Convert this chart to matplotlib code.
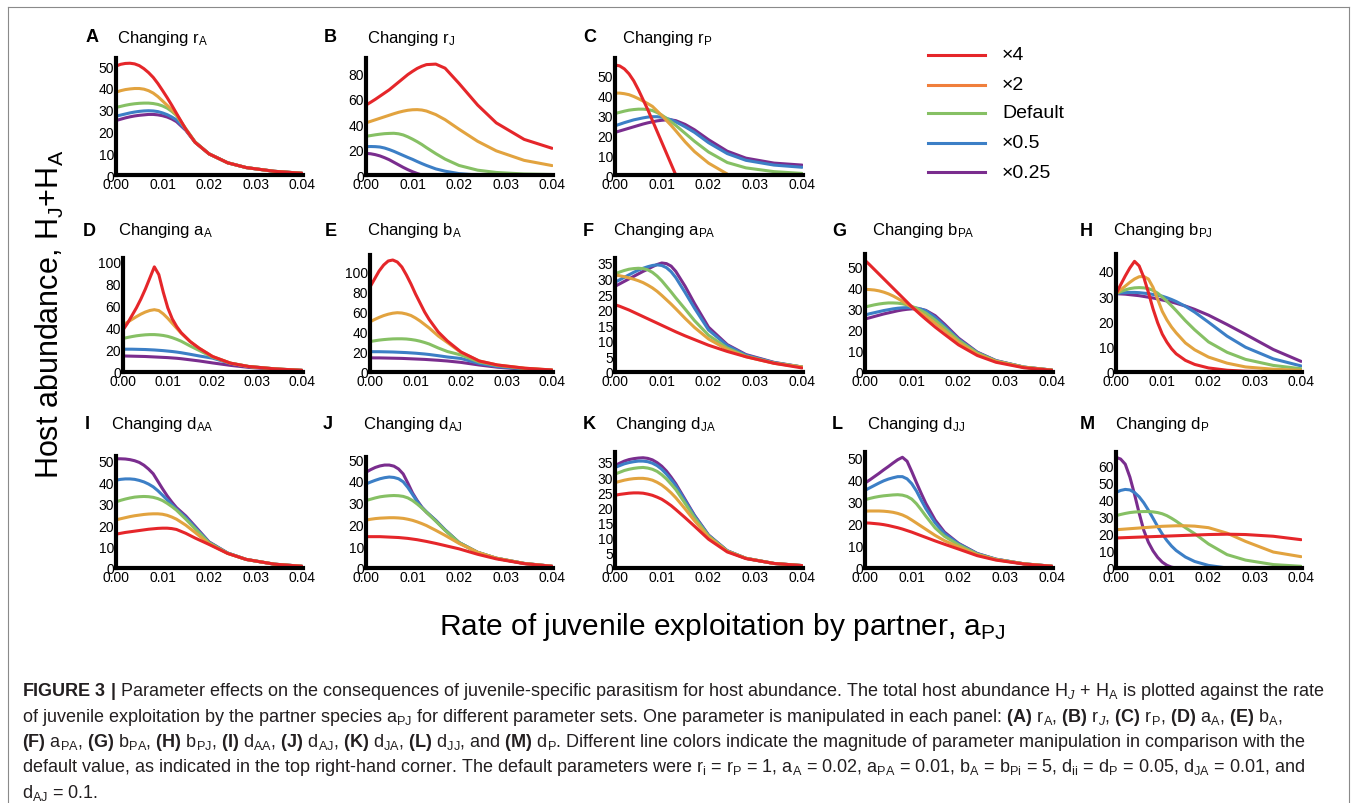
import matplotlib.pyplot as plt
import numpy as np
from matplotlib.lines import Line2D

plt.rcParams['font.family'] = 'Liberation Sans'
plt.rcParams['mathtext.fontset'] = 'custom'
plt.rcParams['mathtext.rm'] = 'Liberation Sans'
plt.rcParams['mathtext.it'] = 'Liberation Sans:italic'
plt.rcParams['mathtext.bf'] = 'Liberation Sans:bold'

W, H = 1357, 804
nan = np.nan

# rate of juvenile exploitation by partner, a_PJ (same samples for every curve)
a_pj = [0.000, 0.001, 0.002, 0.003, 0.004, 0.005, 0.006, 0.007, 0.008, 0.009,
        0.010, 0.011, 0.012, 0.013, 0.015, 0.017, 0.020, 0.024, 0.028, 0.034, 0.040]

levels = ['\u00d74', '\u00d72', 'Default', '\u00d70.5', '\u00d70.25']
line_colors = ['#e5262a', '#e2a33f', '#86c064', '#3c7fc6', '#7a2d8e']
legend_colors = ['#e5262a', '#f07f3c', '#86c064', '#3c7fc6', '#7a2d8e']

# host abundance H_J+H_A, series in the order of `levels`
host_A = [
    [50, 50.8, 51.2, 51.3, 51, 50.2, 48.8, 47, 44.8, 42, 38.8, 35.5, 32, 28.3, 21, 15, 9.7, 5.6, 3.4, 1.7, 0.8],
    [38, 38.7, 39.2, 39.5, 39.7, 39.7, 39.4, 38.7, 37.6, 36, 34, 32, 30, 27.8, 21, 15, 9.7, 5.6, 3.4, 1.7, 0.8],
    [31, 31.5, 32, 32.4, 32.7, 32.9, 33, 33, 32.8, 32.4, 31.7, 30.7, 29.2, 27.3, 21.3, 15.2, 9.7, 5.6, 3.4, 1.7, 0.8],
    [27, 27.5, 28, 28.5, 28.9, 29.2, 29.4, 29.5, 29.4, 29.1, 28.5, 27.7, 26.6, 25.3, 20.8, 15.1, 9.7, 5.6, 3.4, 1.7, 0.8],
    [25, 25.6, 26.2, 26.7, 27.1, 27.4, 27.6, 27.8, 27.8, 27.6, 27.2, 26.6, 25.7, 24.5, 20.5, 15, 9.7, 5.6, 3.4, 1.7, 0.8],
]
host_B = [
    [55, 57.2, 59.5, 62, 64.5, 67, 70, 73, 76, 79, 81.5, 83.8, 85.5, 86.8, 87.2, 84, 72, 55, 41, 28, 21],
    [41, 42.2, 43.4, 44.6, 45.8, 47, 48.2, 49.3, 50.2, 50.9, 51.3, 51.4, 51.1, 50.3, 47.5, 43.5, 36, 26.5, 19, 11.5, 7.4],
    [30.4, 31, 31.6, 32.1, 32.5, 32.7, 32.8, 32.4, 31.5, 30, 28.2, 26.2, 24, 21.5, 16.8, 12.5, 7.5, 3.8, 2, 0.8, 0.4],
    [22.3, 22.4, 22.3, 22, 21.2, 20, 18.6, 17, 15.4, 13.8, 12.3, 10.6, 9, 7.5, 4.8, 3, 1.1, 0, nan, nan, nan],
    [17, 16.7, 16, 15, 13.6, 12, 10, 8, 6, 4.2, 2.6, 1.2, 0, nan, nan, nan, nan, nan, nan, nan, nan],
]
host_C = [
    [55.5, 55, 53.5, 51, 47.5, 43, 38, 33, 27.5, 22, 16.5, 11, 5.5, 0, nan, nan, nan, nan, nan, nan, nan],
    [41.3, 41.3, 41, 40.5, 39.6, 38.5, 37.3, 36, 34.6, 32.3, 30, 27.5, 25, 22.3, 16.7, 11.8, 6, 0.5, nan, nan, nan],
    [31, 31.6, 32.2, 32.7, 33, 33.2, 33.2, 33, 32.5, 31.5, 30.2, 28.6, 26.8, 25, 21, 17, 11.6, 6.3, 3.6, 1.7, 0.8],
    [24.8, 25.6, 26.4, 27.1, 27.8, 28.3, 28.8, 29.2, 29.4, 29.4, 29.1, 28.6, 27.8, 26.8, 24.3, 21.5, 16.3, 10.8, 7.4, 5, 3.9],
    [21.5, 22.2, 22.9, 23.6, 24.3, 25, 25.7, 26.3, 26.8, 27.3, 27.6, 27.8, 27.8, 27.4, 25.5, 22.8, 17.8, 12, 8.5, 6, 5],
]
host_D = [
    [38, 44, 51, 58, 66, 75, 85, 95, 88, 72, 58, 48, 41, 35.5, 27.5, 21.5, 14, 8, 5, 2.8, 1.5],
    [42.5, 45, 47.5, 50, 52.3, 54.2, 55.6, 56.3, 55.5, 52.5, 48.5, 44, 39.5, 35, 27.5, 21.5, 14, 8, 5, 2.8, 1.5],
    [30.3, 31.2, 32, 32.7, 33.2, 33.6, 33.8, 33.8, 33.5, 33, 32.2, 31, 29.5, 27.8, 23.5, 19.5, 13.5, 8, 5, 2.8, 1.5],
    [20.6, 20.6, 20.6, 20.5, 20.4, 20.3, 20.1, 19.9, 19.6, 19.3, 18.9, 18.5, 18, 17.4, 16, 14.5, 12.5, 7.8, 5, 2.8, 1.5],
    [14.5, 14.4, 14.3, 14.2, 14.1, 14, 13.8, 13.6, 13.4, 13.2, 13, 12.7, 12.4, 12, 11, 10, 8.2, 6, 4.2, 2.5, 1.4],
]
host_E = [
    [85, 93, 101, 107, 111, 112, 110, 105, 97, 88, 78, 69, 60, 52.5, 40, 31, 20, 11, 7, 3.8, 2],
    [50.2, 52.5, 54.6, 56.4, 57.8, 58.8, 59.3, 59, 58, 56.5, 54, 51, 47.5, 44, 36, 29.5, 19.5, 11, 7, 3.8, 2],
    [30.5, 31.2, 31.9, 32.4, 32.8, 33.1, 33.2, 33.2, 33, 32.5, 31.8, 30.8, 29.5, 28, 24, 20.5, 17, 10, 6.5, 3.5, 1.8],
    [20.3, 20.3, 20.3, 20.2, 20.1, 20, 19.8, 19.6, 19.4, 19.1, 18.8, 18.4, 18, 17.5, 16.3, 15, 13.5, 8.5, 5.5, 3, 1.6],
    [14.2, 14.1, 14.1, 14, 13.9, 13.8, 13.7, 13.6, 13.4, 13.2, 13, 12.8, 12.6, 12.3, 11.7, 11, 9.6, 7, 4.8, 2.7, 1.5],
]
host_F = [
    [21.6, 21.1, 20.5, 19.9, 19.2, 18.5, 17.8, 17.1, 16.4, 15.7, 15, 14.3, 13.6, 12.9, 11.6, 10.4, 8.6, 6.6, 4.9, 2.8, 1.3],
    [31.2, 30.9, 30.6, 30.2, 29.8, 29.3, 28.7, 27.9, 27, 25.9, 24.6, 23.2, 21.8, 20.3, 17.2, 14.3, 10.6, 7.2, 4.9, 2.8, 1.6],
    [31.5, 32.1, 32.6, 33, 33.2, 33.3, 33.2, 32.8, 32, 30.8, 29.3, 27.5, 25.7, 23.8, 20.2, 16.5, 11.8, 7.7, 5.1, 2.9, 1.6],
    [28.8, 29.6, 30.4, 31.2, 32, 32.7, 33.3, 33.8, 34.2, 34.4, 34.2, 33.5, 32.2, 30.3, 25.5, 20.5, 13.5, 8.5, 5.4, 3, 1.6],
    [27.5, 28.3, 29.1, 29.9, 30.7, 31.5, 32.3, 33, 33.8, 34.5, 35, 34.8, 34, 32.3, 27.5, 22, 14.4, 8.8, 5.6, 3.1, 1.6],
]
host_G = [
    [52.7, 50.6, 48.4, 46.2, 44, 41.8, 39.6, 37.4, 35.2, 33, 30.8, 28.8, 26.8, 24.9, 21.2, 17.8, 12.8, 7.8, 4.6, 2, 0.8],
    [39, 38.9, 38.7, 38.3, 37.7, 36.9, 35.9, 34.7, 33.4, 32, 30.6, 29.2, 27.8, 26.3, 23, 19.5, 14, 8.4, 5, 2.2, 0.9],
    [30.7, 31.2, 31.7, 32.1, 32.4, 32.6, 32.6, 32.5, 32.2, 31.7, 31, 30.1, 29, 27.8, 24.5, 20.8, 15, 9, 5.2, 2.3, 0.9],
    [26.9, 27.5, 28, 28.5, 29, 29.4, 29.8, 30.1, 30.3, 30.4, 30.4, 30.2, 29.7, 28.9, 25.8, 21.8, 15.5, 9.2, 5.3, 2.3, 0.9],
    [25, 25.6, 26.2, 26.8, 27.4, 27.9, 28.4, 28.9, 29.3, 29.6, 29.8, 29.8, 29.6, 29.1, 26.6, 22.6, 16, 9.4, 5.4, 2.3, 0.9],
]
host_H = [
    [31, 34.5, 38, 41.2, 43.8, 42, 37.5, 31.5, 25, 19.5, 15, 11.8, 9.2, 7.2, 4.6, 3, 1.6, 0.7, 0.3, 0.1, 0],
    [31, 32.5, 34, 35.5, 36.8, 37.7, 37.8, 36.8, 33.5, 28.8, 24, 20.6, 17.8, 15.5, 11.5, 8.8, 5.9, 3.5, 2, 1.1, 0.7],
    [31, 31.8, 32.5, 33, 33.3, 33.4, 33.3, 33, 32.3, 31.2, 29.7, 28, 26.2, 24.3, 20.3, 16.7, 11.9, 7.8, 5, 2.6, 1.3],
    [31, 31.3, 31.4, 31.5, 31.5, 31.4, 31.2, 31, 30.7, 30.4, 30, 29.4, 28.7, 27.9, 26, 23.7, 19.7, 14.2, 9.8, 5.2, 2.4],
    [31, 30.9, 30.8, 30.6, 30.4, 30.2, 29.9, 29.6, 29.3, 28.9, 28.5, 28.1, 27.7, 27.2, 26.1, 24.8, 22.5, 18.8, 14.9, 8.9, 4.2],
]
host_I = [
    [15.8, 16.2, 16.6, 16.9, 17.2, 17.5, 17.8, 18.1, 18.3, 18.5, 18.6, 18.6, 18.4, 18, 16.2, 14, 11, 6.8, 4, 1.8, 0.8],
    [22.5, 23, 23.5, 24, 24.4, 24.7, 25, 25.2, 25.3, 25.3, 25.1, 24.6, 23.8, 22.8, 20, 16.6, 11.3, 6.8, 4, 1.8, 0.8],
    [30.9, 31.6, 32.2, 32.7, 33.1, 33.3, 33.4, 33.3, 33, 32.4, 31.5, 30.2, 28.7, 27, 22.8, 18.3, 11.8, 6.9, 4, 1.8, 0.8],
    [41, 41.4, 41.6, 41.6, 41.4, 40.9, 40.2, 39.2, 37.9, 36.1, 34, 31.8, 29.6, 27.5, 23.6, 19, 12, 7, 4, 1.8, 0.8],
    [51, 51, 50.9, 50.6, 50.1, 49.3, 48, 46.2, 44, 40.5, 37, 33.7, 30.8, 28.2, 24.3, 19.5, 12.2, 7, 4, 1.8, 0.8],
]
host_J = [
    [14.4, 14.4, 14.4, 14.4, 14.3, 14.2, 14.1, 14, 13.8, 13.6, 13.3, 13, 12.6, 12.2, 11.3, 10.3, 8.8, 6.3, 4.2, 2, 0.8],
    [22, 22.4, 22.7, 22.9, 23, 23.1, 23.1, 23, 22.8, 22.4, 21.9, 21.2, 20.4, 19.5, 17.3, 15, 11.3, 7.2, 4.5, 2.1, 0.8],
    [31, 31.6, 32.2, 32.7, 33, 33.2, 33.3, 33.2, 32.9, 32.2, 31, 29.4, 27.6, 25.6, 21.5, 17.3, 11.7, 7.2, 4.5, 2.1, 0.8],
    [38.6, 39.5, 40.3, 41, 41.5, 41.8, 41.6, 41, 39.6, 37, 33.8, 30.6, 27.8, 25.8, 21.8, 17.5, 11.7, 7.2, 4.5, 2.1, 0.8],
    [44, 45.2, 46.2, 46.9, 47.3, 47.3, 46.8, 45.5, 43.2, 39, 34.5, 31, 28, 25.6, 21.9, 17.5, 11.7, 7.2, 4.5, 2.1, 0.8],
]
host_K = [
    [24, 24.3, 24.5, 24.7, 24.8, 24.8, 24.7, 24.4, 24, 23.4, 22.7, 21.7, 20.6, 19.3, 16.6, 13.8, 9.5, 5.3, 3.1, 1.5, 0.8],
    [28.2, 28.6, 29, 29.3, 29.5, 29.6, 29.6, 29.4, 29, 28.3, 27.4, 26.2, 24.8, 23.2, 19.5, 15.6, 10.2, 5.5, 3.2, 1.5, 0.8],
    [31, 31.6, 32.2, 32.6, 32.9, 33.1, 33.2, 33, 32.6, 31.9, 30.8, 29.4, 27.7, 25.9, 21.3, 16.6, 10.6, 5.6, 3.2, 1.5, 0.8],
    [33.2, 33.8, 34.4, 34.8, 35.1, 35.3, 35.3, 35.1, 34.6, 33.8, 32.6, 31, 29.2, 27.2, 22.2, 17.2, 10.8, 5.7, 3.2, 1.5, 0.8],
    [33.8, 34.6, 35.3, 35.8, 36.1, 36.3, 36.4, 36.2, 35.7, 34.8, 33.6, 32, 30, 27.8, 22.6, 17.4, 10.9, 5.7, 3.2, 1.5, 0.8],
]
host_L = [
    [20.5, 20.4, 20.2, 20, 19.7, 19.3, 18.8, 18.3, 17.7, 17, 16.3, 15.5, 14.7, 13.9, 12.3, 10.8, 8.6, 5.6, 3.6, 1.8, 0.8],
    [25.8, 25.9, 25.9, 25.9, 25.8, 25.6, 25.3, 24.8, 24.1, 23.1, 21.8, 20.4, 19, 17.6, 14.8, 12.4, 9.6, 6, 3.8, 1.9, 0.8],
    [31, 31.6, 32.1, 32.5, 32.8, 33, 33.2, 33.3, 33.1, 32.5, 31.3, 29.2, 26.5, 23.6, 18.2, 14.4, 10.5, 6.3, 3.9, 1.9, 0.8],
    [35.3, 36.4, 37.5, 38.6, 39.6, 40.4, 41, 41.5, 41.5, 40.5, 38.3, 35, 30.9, 27, 20.5, 15.6, 11, 6.5, 4, 1.9, 0.8],
    [38.6, 40, 41.5, 43, 44.6, 46.1, 47.7, 49.2, 50.3, 48.5, 43.8, 38.8, 34, 29.4, 21.8, 16.3, 11.2, 6.6, 4, 1.9, 0.8],
]
host_M = [
    [17.5, 17.6, 17.7, 17.8, 17.9, 18, 18.1, 18.2, 18.3, 18.4, 18.5, 18.6, 18.7, 18.8, 19, 19.2, 19.5, 19.7, 19.5, 18.5, 16.5],
    [22.3, 22.5, 22.7, 22.9, 23.1, 23.3, 23.5, 23.7, 23.9, 24.1, 24.3, 24.4, 24.5, 24.6, 24.6, 24.4, 23.5, 20.3, 15.5, 9.3, 6.6],
    [30.5, 31.2, 31.8, 32.3, 32.6, 32.8, 32.9, 32.9, 32.7, 32.3, 31.6, 30.5, 29, 27.3, 23.5, 20, 14, 7.8, 4.6, 2, 1],
    [44, 45.2, 45.8, 45.5, 44, 41.5, 38, 33.7, 29, 24.2, 19.8, 16, 12.8, 10.2, 6.4, 3.8, 1.5, 0, nan, nan, nan],
    [64.5, 63.5, 60.5, 53, 43, 32, 22, 15, 10, 6.2, 3.4, 1.6, 0.5, 0, nan, nan, nan, nan, nan, nan, nan],
]

# panel letter, parameter symbol, subscript, data, y top, y tick step
panels = [
    ('A', 'r', 'A', host_A, 53.7, 10), ('B', 'r', 'J', host_B, 92, 20), ('C', 'r', 'P', host_C, 59, 10),
    ('D', 'a', 'A', host_D, 103, 20), ('E', 'b', 'A', host_E, 117, 20), ('F', 'a', 'PA', host_F, 36.6, 5),
    ('G', 'b', 'PA', host_G, 55.7, 10), ('H', 'b', 'PJ', host_H, 46.7, 10), ('I', 'd', 'AA', host_I, 52.3, 10),
    ('J', 'd', 'AJ', host_J, 51, 10), ('K', 'd', 'JA', host_K, 38.3, 5), ('L', 'd', 'JJ', host_L, 52.7, 10),
    ('M', 'd', 'P', host_M, 67.6, 10),
]

# layout in pixels: axes box (left, top, right, bottom), letter x, title x, title y
layout = {
    'A': ((116, 59, 303, 176), 86, 117, 38), 'B': ((366, 59, 553, 176), 324, 367, 38),
    'C': ((615, 59, 803, 176), 583, 622, 38),
    'D': ((123, 259, 303, 373), 83, 118, 231), 'E': ((370, 256, 553, 373), 325, 367, 231),
    'F': ((615, 259, 803, 373), 583, 613, 231), 'G': ((865, 255, 1053, 373), 832, 872, 231),
    'H': ((1116, 255, 1302, 373), 1080, 1113, 231),
    'I': ((116, 457, 303, 569), 85, 111, 425), 'J': ((366, 458, 553, 569), 323, 363, 425),
    'K': ((615, 453, 803, 569), 583, 615, 425), 'L': ((865, 453, 1053, 569), 832, 867, 425),
    'M': ((1116, 453, 1302, 569), 1080, 1115, 425),
}

fig = plt.figure(figsize=(W / 100, H / 100), dpi=100)


def fx(x):
    return x / W


def fy(y):
    return 1 - y / H


for letter, sym, sub, data, ytop, ystep in panels:
    (l, t, r, b), lx, tx, ty = layout[letter]
    ax = fig.add_axes([fx(l), fy(b), (r - l) / W, (b - t) / H])
    for series, col in list(zip(data, line_colors))[::-1]:
        ax.plot(a_pj, series, color=col, lw=2.2, solid_capstyle='round')
    ax.set_xlim(0, 0.0402)
    ax.set_ylim(0, ytop)
    ax.set_xticks([0, 0.01, 0.02, 0.03, 0.04])
    ax.set_xticklabels(['0.00', '0.01', '0.02', '0.03', '0.04'])
    ax.set_yticks(np.arange(0, ytop, ystep))
    ax.tick_params(length=0, pad=1.5, labelsize=10)
    for s in ['top', 'right']:
        ax.spines[s].set_visible(False)
    for s in ['left', 'bottom']:
        ax.spines[s].set_linewidth(3)
    ax.patch.set_visible(False)
    fig.text(fx(lx), fy(ty), letter, fontsize=13, fontweight='bold', va='center', ha='left')
    fig.text(fx(tx), fy(ty), 'Changing ' + sym + r'$_\mathregular{' + sub + '}$',
             fontsize=12, va='center', ha='left')

# legend for the manipulation level
leg_y = [56, 86, 114, 144, 173]
for lab, col, y in zip(levels, legend_colors, leg_y):
    fig.add_artist(Line2D([fx(928), fx(985)], [fy(y), fy(y)], color=col, lw=2.2))
    fig.text(fx(1002), fy(y), lab, fontsize=14, va='center', ha='left')

fig.text(fx(50), fy(314), r'Host abundance, H$_\mathregular{J}$+H$_\mathregular{A}$',
         rotation=90, fontsize=22, va='center', ha='center')
fig.text(fx(722), fy(627), r'Rate of juvenile exploitation by partner, a$_\mathregular{PJ}$',
         fontsize=21.5, va='center', ha='center')

# frame around the figure
for xs, ys in [([8, 8], [8, 810]), ([8, 1349], [8, 8]), ([1349, 1349], [8, 810])]:
    fig.add_artist(Line2D([fx(v) for v in xs], [fy(v) for v in ys], color='#8a8a8a', lw=0.8))

caption = [
    r'$\mathbf{FIGURE\ 3\ |}$ Parameter effects on the consequences of juvenile-specific parasitism for host abundance. '
    r'The total host abundance H$_J$ + H$_\mathregular{A}$ is plotted against the rate',
    r'of juvenile exploitation by the partner species a$_\mathregular{PJ}$ for different parameter sets. '
    r'One parameter is manipulated in each panel: $\mathbf{(A)}$ r$_\mathregular{A}$, $\mathbf{(B)}$ r$_J$, '
    r'$\mathbf{(C)}$ r$_\mathregular{P}$, $\mathbf{(D)}$ a$_\mathregular{A}$, $\mathbf{(E)}$ b$_\mathregular{A}$,',
    r'$\mathbf{(F)}$ a$_\mathregular{PA}$, $\mathbf{(G)}$ b$_\mathregular{PA}$, $\mathbf{(H)}$ b$_\mathregular{PJ}$, '
    r'$\mathbf{(I)}$ d$_\mathregular{AA}$, $\mathbf{(J)}$ d$_\mathregular{AJ}$, $\mathbf{(K)}$ d$_\mathregular{JA}$, '
    r'$\mathbf{(L)}$ d$_\mathregular{JJ}$, and $\mathbf{(M)}$ d$_\mathregular{P}$. Different line colors indicate '
    r'the magnitude of parameter manipulation in comparison with the',
    r'default value, as indicated in the top right-hand corner. The default parameters were '
    r'r$_\mathregular{i}$ = r$_\mathregular{P}$ = 1, a$_\mathregular{A}$ = 0.02, a$_\mathregular{PA}$ = 0.01, '
    r'b$_\mathregular{A}$ = b$_\mathregular{Pi}$ = 5, d$_\mathregular{ii}$ = d$_\mathregular{P}$ = 0.05, '
    r'd$_\mathregular{JA}$ = 0.01, and',
    r'd$_\mathregular{AJ}$ = 0.1.',
]
cap_y = [692, 718, 743, 768, 793]
for line, y in zip(caption, cap_y):
    fig.text(fx(22), fy(y), line, fontsize=13, va='center', ha='left', color='#231f20')

fig.savefig('out.png', dpi=100)
